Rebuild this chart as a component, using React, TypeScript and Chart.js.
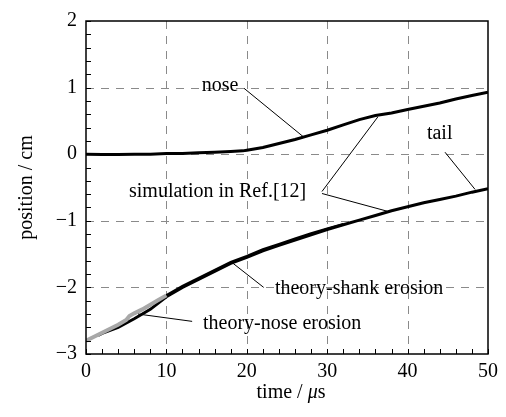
import React, { useEffect, useRef } from "react";
import { Chart, registerables } from "chart.js";

Chart.register(...registerables);

// Simulated nose position (cm) against time (µs)
const noseTimes = [0, 2, 4, 6, 8, 10, 12, 14, 16, 18, 19.5, 20, 22, 24, 26, 28, 30, 32, 34, 36, 38, 40, 42, 44, 46, 48, 50];
const noseValues = [0.0, -0.005, -0.005, 0.0, 0.0, 0.01, 0.01, 0.02, 0.03, 0.04, 0.05, 0.06, 0.1, 0.16, 0.22, 0.29, 0.36, 0.44, 0.52, 0.58, 0.62, 0.67, 0.72, 0.77, 0.83, 0.88, 0.93];

// Simulated tail position
const tailTimes = [1.5, 2, 4, 6, 8, 10, 12, 14, 16, 18, 20, 22, 24, 26, 28, 30, 32, 34, 36, 38, 40, 42, 44, 46, 48, 50];
const tailValues = [-2.72, -2.69, -2.6, -2.47, -2.33, -2.14, -2.0, -1.88, -1.76, -1.64, -1.55, -1.45, -1.37, -1.29, -1.21, -1.13, -1.06, -0.99, -0.92, -0.85, -0.79, -0.73, -0.68, -0.63, -0.57, -0.52];

// Theory, shank erosion phase
const shankTimes = [10, 12, 14, 16, 18, 20, 22, 24, 26, 28, 30, 32];
const shankValues = [-2.12, -1.98, -1.86, -1.74, -1.62, -1.53, -1.43, -1.35, -1.27, -1.19, -1.12, -1.05];

// Theory, nose erosion phase
const noseErosionTimes = [0, 1, 2, 3, 4, 5, 5.4, 6, 7, 8, 9, 10];
const noseErosionValues = [-2.8, -2.74, -2.68, -2.62, -2.56, -2.49, -2.43, -2.39, -2.33, -2.26, -2.19, -2.12];

const xTickValues = [0, 10, 20, 30, 40, 50];
const yTickValues = [-3, -2, -1, 0, 1, 2];
const xGridValues = [10, 20, 30, 40];
const yGridValues = [-2, -1, 0, 1];

const yTitle = "position / cm";

// Callout labels and their leader lines, in axis units
const calloutTexts = ["nose", "simulation in Ref.[12]", "tail", "theory-shank erosion", "theory-nose erosion"];
const calloutAnchors: [number, number][] = [
  [14.4, 1.03],
  [5.35, -0.56],
  [42.4, 0.3],
  [23.5, -2.02],
  [14.55, -2.55],
];
const leaderLines: [number, number, number, number][] = [
  [19.65, 0.99, 27.0, 0.265],
  [29.35, -0.56, 36.3, 0.56],
  [29.35, -0.59, 37.44, -0.855],
  [44.65, 0.03, 48.4, -0.53],
  [18.3, -1.64, 22.1, -2.0],
  [6.47, -2.4, 13.2, -2.51],
];

const FONT = "'Liberation Serif', 'DejaVu Serif', serif";

const toPoints = (xs: number[], ys: number[]) => xs.map((x, i) => ({ x, y: ys[i] }));

const overlay = {
  id: "overlay",
  beforeDatasetsDraw(chart: any) {
    const { ctx, chartArea: a, scales } = chart;
    ctx.save();
    ctx.strokeStyle = "#8a8a8a";
    ctx.lineWidth = 1;
    ctx.setLineDash([8, 7]);
    ctx.beginPath();
    xGridValues.forEach((v) => {
      const px = Math.round(scales.x.getPixelForValue(v)) + 0.5;
      ctx.moveTo(px, a.top);
      ctx.lineTo(px, a.bottom);
    });
    yGridValues.forEach((v) => {
      const py = Math.round(scales.y.getPixelForValue(v)) + 0.5;
      ctx.moveTo(a.left, py);
      ctx.lineTo(a.right, py);
    });
    ctx.stroke();
    ctx.restore();
  },
  afterDraw(chart: any) {
    const { ctx, chartArea: a, scales } = chart;
    const x = scales.x;
    const y = scales.y;
    ctx.save();

    // inward ticks on left and bottom axes
    ctx.strokeStyle = "#000";
    ctx.lineWidth = 1;
    ctx.beginPath();
    for (let i = 0; i <= 25; i++) {
      const py = Math.round(y.getPixelForValue(-3 + i * 0.2)) + 0.5;
      ctx.moveTo(a.left, py);
      ctx.lineTo(a.left + 5, py);
    }
    for (let i = 0; i <= 25; i++) {
      const px = Math.round(x.getPixelForValue(i * 2)) + 0.5;
      ctx.moveTo(px, a.bottom);
      ctx.lineTo(px, a.bottom - 5);
    }
    ctx.stroke();

    // frame
    ctx.lineWidth = 1.5;
    ctx.strokeRect(a.left, a.top, a.right - a.left, a.bottom - a.top);

    // leader lines
    ctx.lineWidth = 1;
    ctx.beginPath();
    leaderLines.forEach(([x1, y1, x2, y2]) => {
      ctx.moveTo(x.getPixelForValue(x1), y.getPixelForValue(y1));
      ctx.lineTo(x.getPixelForValue(x2), y.getPixelForValue(y2));
    });
    ctx.stroke();

    // callout labels
    ctx.fillStyle = "#000";
    ctx.font = `20px ${FONT}`;
    ctx.textAlign = "left";
    ctx.textBaseline = "middle";
    calloutTexts.forEach((t, i) => {
      const [cx, cy] = calloutAnchors[i];
      ctx.fillText(t, x.getPixelForValue(cx), y.getPixelForValue(cy));
    });

    // x title: "time / μs" with an italic mu
    const part1 = "time / ";
    const mu = "μ";
    const part3 = "s";
    ctx.font = `20px ${FONT}`;
    const w1 = ctx.measureText(part1).width;
    const w3 = ctx.measureText(part3).width;
    ctx.font = `italic 20px ${FONT}`;
    const w2 = ctx.measureText(mu).width;
    let tx = (a.left + a.right) / 2 + 4 - (w1 + w2 + w3) / 2;
    const ty = 393;
    ctx.font = `20px ${FONT}`;
    ctx.fillText(part1, tx, ty);
    tx += w1;
    ctx.font = `italic 20px ${FONT}`;
    ctx.fillText(mu, tx, ty);
    tx += w2;
    ctx.font = `20px ${FONT}`;
    ctx.fillText(part3, tx, ty);

    // y title
    ctx.textAlign = "center";
    ctx.translate(27, (a.top + a.bottom) / 2);
    ctx.rotate(-Math.PI / 2);
    ctx.fillText(yTitle, 0, 0);
    ctx.restore();
  },
};

export default function App() {
  const canvasRef = useRef<HTMLCanvasElement | null>(null);

  useEffect(() => {
    if (!canvasRef.current) return;
    const chart = new Chart(canvasRef.current, {
      type: "line",
      data: {
        datasets: [
          {
            label: "theory-nose erosion",
            data: toPoints(noseErosionTimes, noseErosionValues),
            borderColor: "#a8a8a8",
            borderWidth: 4,
            pointRadius: 0,
            tension: 0,
            order: 0,
          },
          {
            label: "nose",
            data: toPoints(noseTimes, noseValues),
            borderColor: "#000",
            borderWidth: 3,
            pointRadius: 0,
            tension: 0,
            order: 1,
          },
          {
            label: "tail",
            data: toPoints(tailTimes, tailValues),
            borderColor: "#000",
            borderWidth: 3,
            pointRadius: 0,
            tension: 0,
            order: 1,
          },
          {
            label: "theory-shank erosion",
            data: toPoints(shankTimes, shankValues),
            borderColor: "#000",
            borderWidth: 2.5,
            pointRadius: 0,
            tension: 0,
            order: 1,
          },
        ],
      },
      plugins: [overlay],
      options: {
        animation: false,
        responsive: false,
        maintainAspectRatio: false,
        layout: { padding: { left: 0, right: 18, top: 15, bottom: 0 } },
        plugins: { legend: { display: false }, tooltip: { enabled: false } },
        scales: {
          x: {
            type: "linear",
            min: 0,
            max: 50,
            afterBuildTicks: (s: any) => {
              s.ticks = xTickValues.map((v) => ({ value: v }));
            },
            afterFit: (s: any) => {
              s.height = 63;
            },
            ticks: {
              color: "#000",
              font: { family: FONT, size: 20 },
              padding: 6,
              maxRotation: 0,
            },
            grid: { display: false, drawTicks: false, tickLength: 0 },
            border: { display: false },
          },
          y: {
            type: "linear",
            min: -3,
            max: 2,
            afterBuildTicks: (s: any) => {
              s.ticks = yTickValues.map((v) => ({ value: v }));
            },
            afterFit: (s: any) => {
              s.width = 86;
            },
            ticks: {
              color: "#000",
              font: { family: FONT, size: 20 },
              padding: 9,
              callback: (v: any) => (Number(v) < 0 ? "\u2212" + Math.abs(Number(v)) : String(v)),
            },
            grid: { display: false, drawTicks: false, tickLength: 0 },
            border: { display: false },
          },
        },
      },
    });
    return () => chart.destroy();
  }, []);

  return (
    <div style={{ position: "fixed", left: 0, top: 0, width: 506, height: 417, background: "#fff" }}>
      <canvas ref={canvasRef} width={506} height={417} style={{ width: 506, height: 417 }} />
    </div>
  );
}
